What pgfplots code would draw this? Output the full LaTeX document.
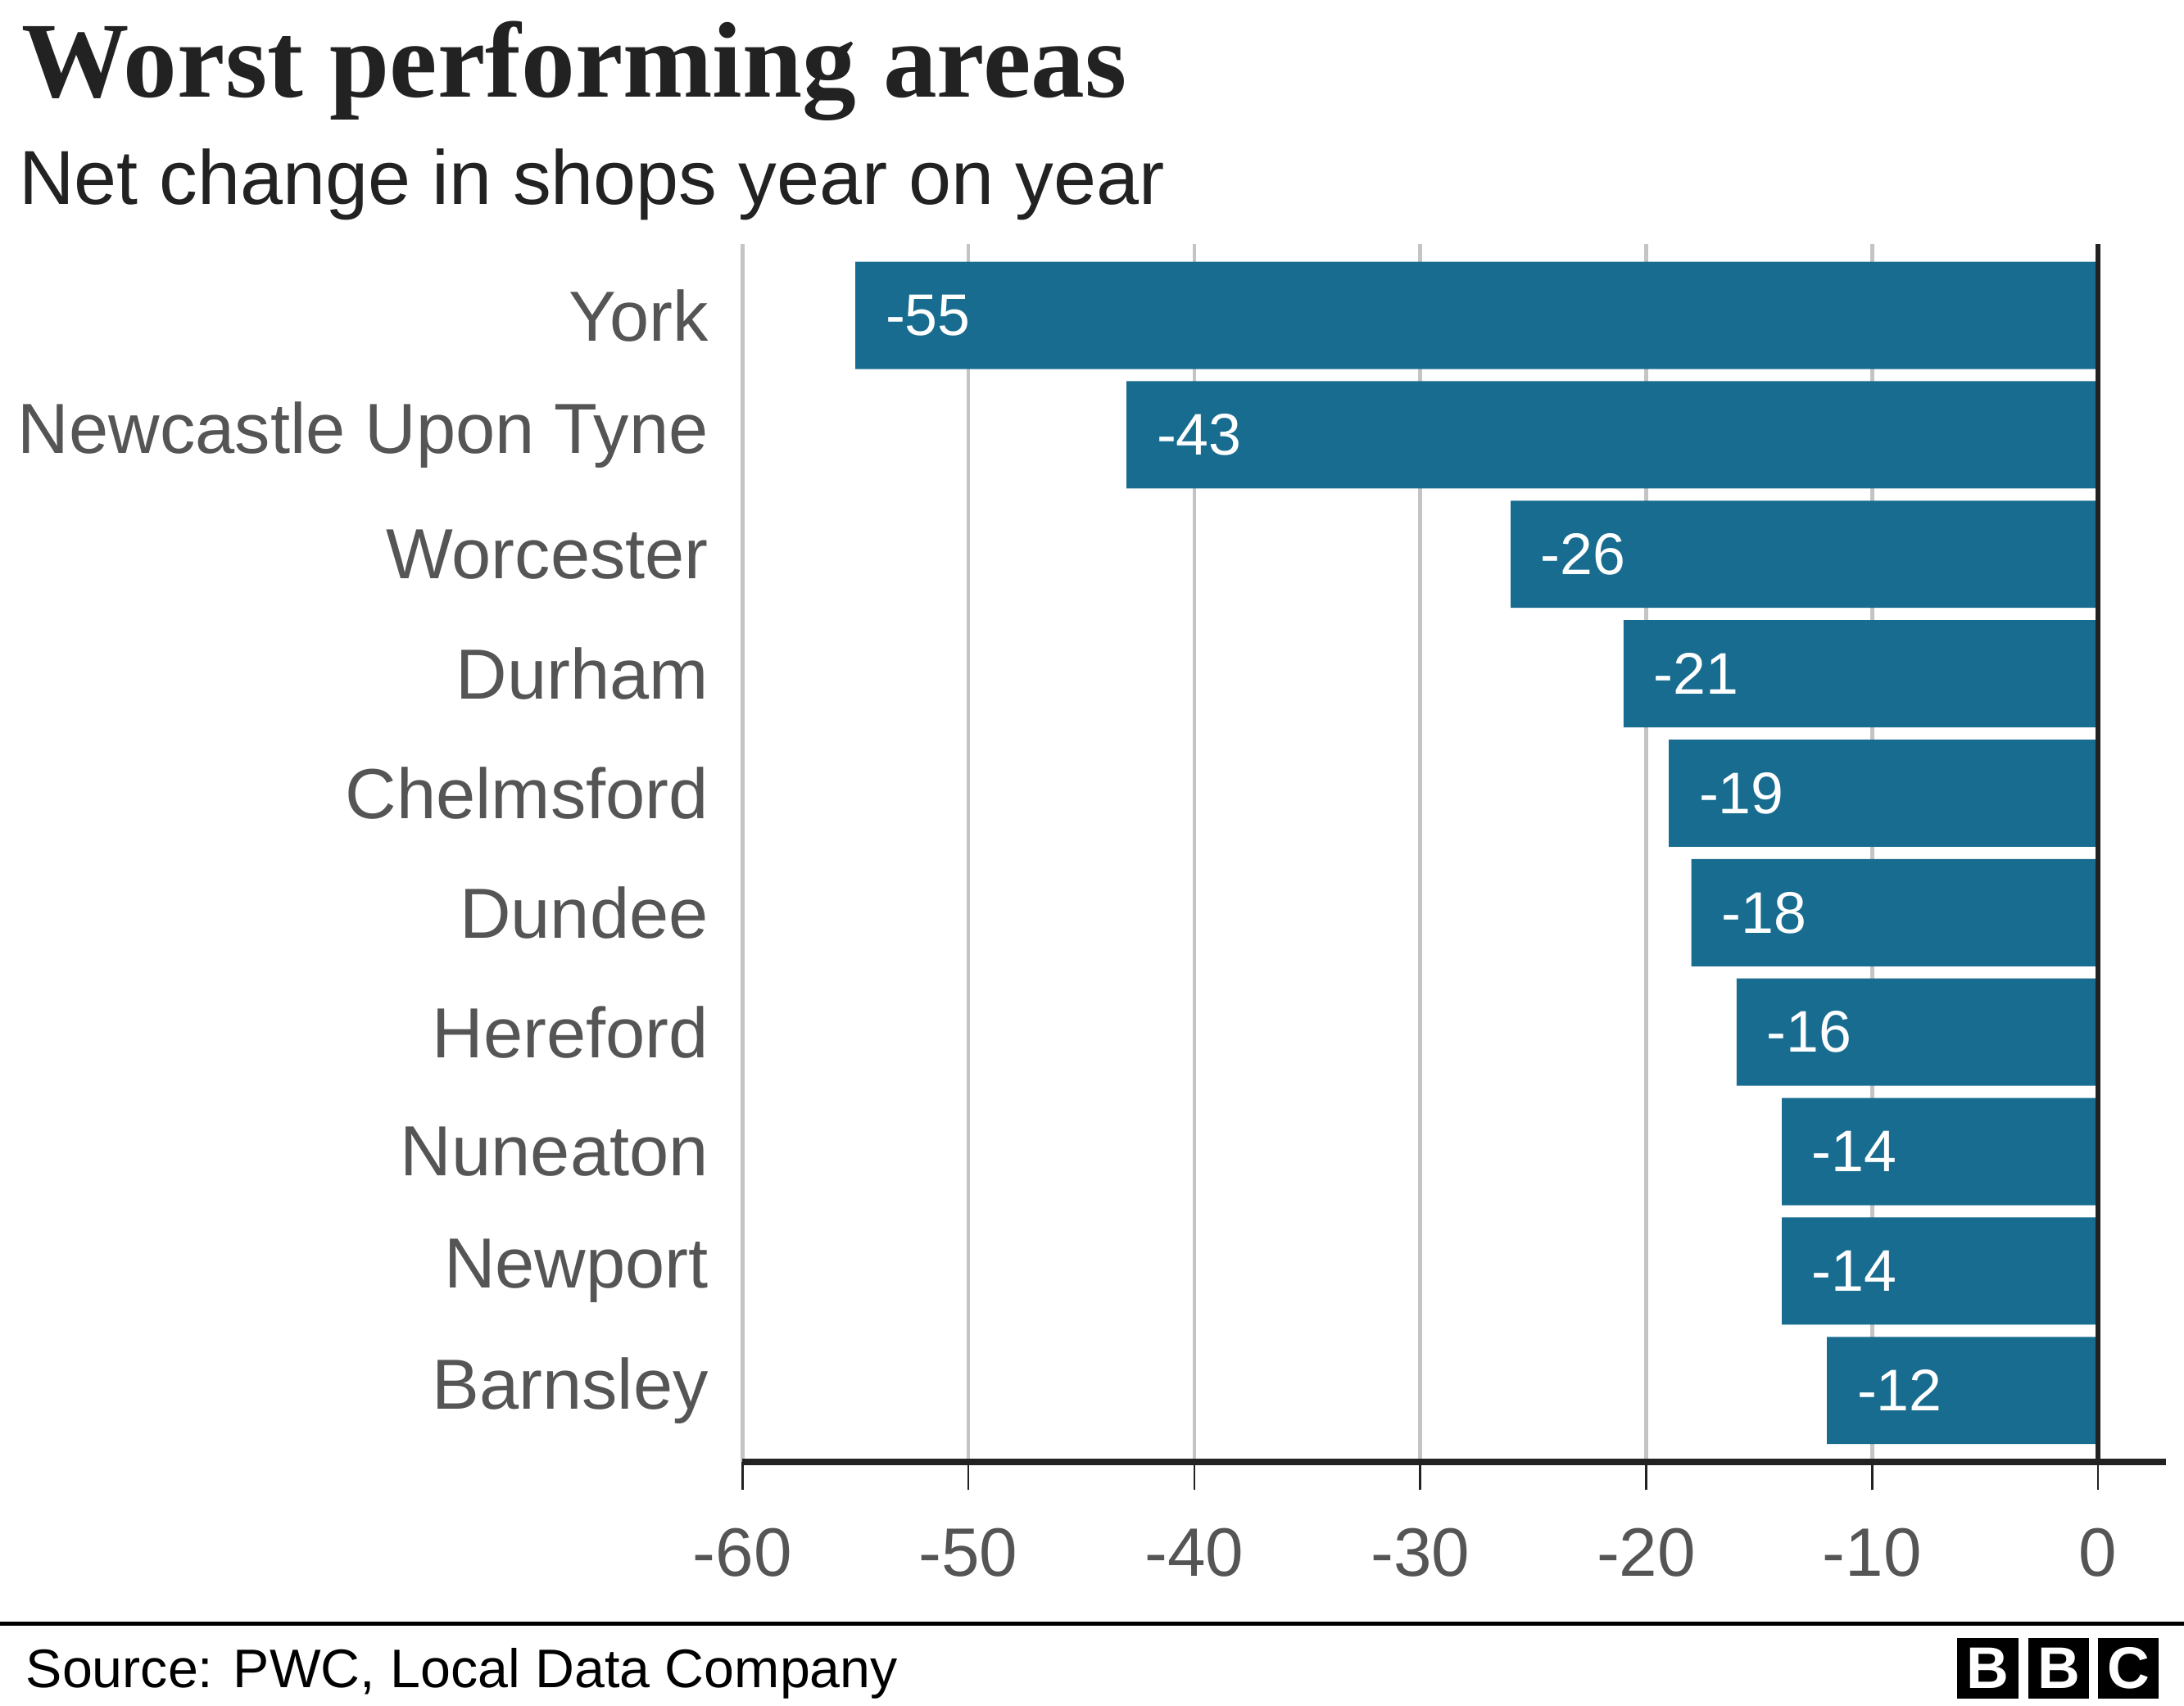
\documentclass[border=0pt]{standalone}
\usepackage{pgfplots}
\pgfplotsset{compat=1.18}
\usepackage{fontspec}
\setmainfont{Liberation Sans}
\newfontfamily\titlefont{Liberation Serif}
\definecolor{barblue}{RGB}{23,108,143}
\definecolor{labgray}{RGB}{85,85,85}
\definecolor{gridgray}{RGB}{196,196,196}
\definecolor{inkblack}{RGB}{34,34,34}
\begin{document}
\begin{tikzpicture}
\useasboundingbox (0,0) rectangle (156.8mm,-122.5mm);
% titles
\node[anchor=base west, inner sep=0, text=inkblack] at (1.5mm,-6.96mm) {\titlefont\bfseries\fontsize{22}{26}\selectfont Worst performing areas};
\node[anchor=base west, inner sep=0, text=inkblack] at (1.3mm,-14.7mm) {\fontsize{15.65}{19}\selectfont Net change in shops year on year};
\begin{axis}[
  at={(53.3mm,-105.0mm)}, anchor=south west,
  scale only axis, width=102.2mm, height=87.5mm,
  xmin=-60, xmax=3, ymin=-0.6, ymax=9.6,
  xbar, bar width=7.7mm,
  axis x line=bottom, axis y line=left,
  x axis line style={-, line width=0.45mm, draw=inkblack},
  y axis line style={draw=none},
  xtick={-60,-50,...,0},
  ytick={0,...,9},
  yticklabels={Barnsley,Newport,Nuneaton,Hereford,Dundee,Chelmsford,Durham,Worcester,Newcastle Upon Tyne,York},
  tick align=outside,
  major tick length=2mm,
  x tick style={draw=inkblack, line width=0.15mm},
  y tick style={draw=none},
  xmajorgrids, major grid style={draw=gridgray, line width=0.28mm},
  /pgf/number format/assume math mode=true,
  xticklabel style={font=\fontsize{14}{16}\selectfont, text=labgray, yshift=-1.5mm},
  yticklabel style={font=\fontsize{14.5}{17}\selectfont, text=labgray, xshift=0.8mm},
  clip=false,
]
\addplot[fill=barblue, draw=none,
  nodes near coords,
  nodes near coords style={anchor=west, inner sep=0pt, xshift=2.1mm, text=white, font=\fontsize{12}{14}\selectfont, /pgf/number format/assume math mode=true},
] coordinates {
(-12,0) (-14,1) (-14,2) (-16,3) (-18,4) (-19,5) (-21,6) (-26,7) (-43,8) (-55,9)
};
\draw[inkblack, line width=0.38mm] (axis cs:0,-0.6) -- (axis cs:0,9.6);
\end{axis}
% footer
\draw[black, line width=0.25mm] (0,-116.6mm) -- (156.8mm,-116.6mm);
\node[anchor=base west, inner sep=0, text=black] at (1.8mm,-121.2mm) {\fontsize{11.1}{14}\selectfont Source: PWC, Local Data Company};
\foreach \x/\l in {140.5/B,145.6/B,150.6/C}{
  \fill[black] (\x mm,-122.0mm) rectangle ++(4.4mm,4.4mm);
  \node[text=white, inner sep=0] at (\x mm+2.2mm,-119.8mm) {\bfseries\fontsize{12}{14}\selectfont \l};
}
\end{tikzpicture}
\end{document}
